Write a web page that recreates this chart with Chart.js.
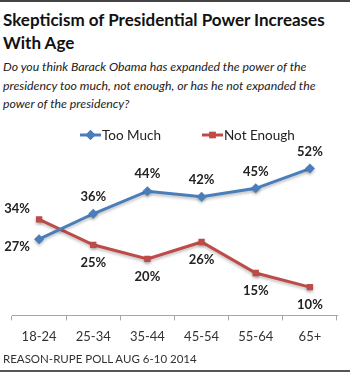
<!DOCTYPE html>
<html>
<head>
<meta charset="utf-8">
<script src="https://cdn.jsdelivr.net/npm/chart.js@4/dist/chart.umd.min.js"></script>
<style>
  html, body { margin: 0; padding: 0; background: #fff; }
  #wrap { position: relative; width: 350px; height: 373px; overflow: hidden; font-family: Lato, "Open Sans", sans-serif; color: #222; }
  #wrap:before { content: ""; position: absolute; left: 0; top: 0; width: 350px; height: 2px; background: #444; }
  #wrap:after { content: ""; position: absolute; left: 0; top: 370px; width: 350px; height: 2px; background: #555; }
  #title { position: absolute; left: 3px; top: 8px; font-size: 17px; font-weight: bold; line-height: 23px; color: #111; }
  #question { position: absolute; left: 3px; top: 58px; font-size: 12.3px; font-style: italic; line-height: 18.5px; color: #222; }
  #chartBox { position: absolute; left: 0; top: 118px; width: 350px; height: 236px; }
  #source { position: absolute; left: 3px; top: 352px; font-size: 11.5px; color: #333; }
</style>
</head>
<body>
<div id="wrap">
  <div id="title">Skepticism of Presidential Power Increases<br>With Age</div>
  <div id="question">Do you think Barack Obama has expanded the power of the<br>presidency too much, not enough, or has he not expanded the<br>power of the presidency?</div>
  <div id="chartBox"><canvas id="c"></canvas></div>
  <div id="source">REASON-RUPE POLL AUG 6-10 2014</div>
</div>
<script>
const ageGroups = ['18-24', '25-34', '35-44', '45-54', '55-64', '65+'];
const tooMuch = [27, 36, 44, 42, 45, 52];
const notEnough = [34, 25, 20, 26, 15, 10];
const seriesNames = ['Too Much', 'Not Enough'];

const blue = '#4a7ebb';
const red = '#be4b48';

// legend with line + marker, like the Excel one
const customLegend = {
  id: 'customLegend',
  afterDraw(chart) {
    const ctx = chart.ctx;
    const y = 17;
    const items = [
      { x: 80, color: blue, style: 'rectRot', r: 5, text: seriesNames[0] },
      { x: 202, color: red, style: 'rect', r: 4.5, text: seriesNames[1] }
    ];
    ctx.save();
    items.forEach(it => {
      ctx.strokeStyle = it.color;
      ctx.lineWidth = 3;
      ctx.beginPath();
      ctx.moveTo(it.x, y);
      ctx.lineTo(it.x + 21, y);
      ctx.stroke();
      ctx.fillStyle = it.color;
      Chart.helpers.drawPoint(ctx, { pointStyle: it.style, radius: it.r, borderWidth: 0 }, it.x + 10.5, y);
      ctx.fill();
      ctx.fillStyle = '#222';
      ctx.font = '13.5px Lato';
      ctx.textBaseline = 'middle';
      ctx.textAlign = 'left';
      ctx.fillText(it.text, it.x + 22, y + 1);
    });
    ctx.restore();
  }
};

// value labels next to the points
const valueLabels = {
  id: 'valueLabels',
  afterDatasetsDraw(chart) {
    const ctx = chart.ctx;
    ctx.save();
    ctx.font = 'bold 13px Lato';
    ctx.fillStyle = '#222';
    ctx.textAlign = 'center';
    ctx.textBaseline = 'middle';
    chart.data.datasets.forEach((ds, di) => {
      chart.getDatasetMeta(di).data.forEach((pt, i) => {
        let dx = 0, dy = di === 0 ? -17 : 18;
        if (i === 0) { dx = -22; dy = di === 0 ? 8 : -11; }
        ctx.fillText(ds.data[i] + '%', pt.x + dx, pt.y + dy);
      });
    });
    ctx.restore();
  }
};

// soft shadow under the lines
const lineShadow = {
  id: 'lineShadow',
  beforeDatasetsDraw(chart) {
    const ctx = chart.ctx;
    ctx.save();
    ctx.shadowColor = 'rgba(0,0,0,0.25)';
    ctx.shadowBlur = 3;
    ctx.shadowOffsetY = 2;
  },
  afterDatasetsDraw(chart) {
    chart.ctx.restore();
  }
};

const ctx = document.getElementById('c').getContext('2d');
new Chart(ctx, {
  type: 'line',
  data: {
    labels: ageGroups,
    datasets: [{
      label: seriesNames[0],
      data: tooMuch,
      borderColor: blue,
      backgroundColor: blue,
      borderWidth: 3,
      pointStyle: 'rectRot',
      pointRadius: 5,
      pointBorderWidth: 0,
      tension: 0
    }, {
      label: seriesNames[1],
      data: notEnough,
      borderColor: red,
      backgroundColor: red,
      borderWidth: 3,
      pointStyle: 'rect',
      pointRadius: 4.5,
      pointBorderWidth: 0,
      tension: 0
    }]
  },
  options: {
    responsive: true,
    maintainAspectRatio: false,
    animation: false,
    layout: { padding: { top: 28, left: 12, right: 13, bottom: 0 } },
    scales: {
      x: {
        offset: true,
        grid: {
          offset: true,
          drawOnChartArea: false,
          drawTicks: true,
          tickLength: 5,
          color: '#a6a6a6'
        },
        border: { display: true, color: '#a6a6a6', width: 1 },
        ticks: {
          color: '#333',
          padding: 9,
          font: { family: 'Lato', size: 13 }
        }
      },
      y: {
        display: false,
        min: 0,
        max: 60
      }
    },
    plugins: {
      legend: { display: false },
      tooltip: { enabled: false }
    }
  },
  plugins: [lineShadow, valueLabels, customLegend]
});
</script>
</body>
</html>
